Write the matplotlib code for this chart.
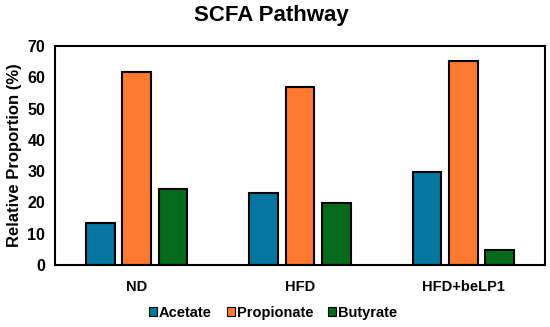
import matplotlib
matplotlib.use("Agg")
import matplotlib.pyplot as plt
import numpy as np

plt.rcParams['font.family'] = ['Liberation Sans', 'DejaVu Sans']
plt.rcParams['font.weight'] = 'bold'

groups = ["ND", "HFD", "HFD+beLP1"]
series = ["Acetate", "Propionate", "Butyrate"]
acetate = [13.5, 22.9, 29.7]
propionate = [61.8, 56.8, 65.3]
butyrate = [24.2, 19.8, 4.8]
colors = ["#0576A0", "#FF7A30", "#046B1A"]

fig = plt.figure(figsize=(5.5, 3.27), dpi=100)
ax = fig.add_axes([55/550, 1-265/327, 490/550, 219/327])

x = np.arange(len(groups))
w = 0.176
off = 0.222
for i, (vals, c, name) in enumerate(zip([acetate, propionate, butyrate], colors, series)):
    ax.bar(x + (i-1)*off, vals, w, color=c, edgecolor='black', linewidth=1.5, label=name)

ax.set_xlim(-0.5, 2.5)
ax.set_ylim(0, 70)
ax.set_yticks(range(0, 71, 10))
ax.set_xticks(x)
ax.set_xticklabels(groups, fontsize=10.5, fontweight='bold')
ax.tick_params(axis='x', length=0, pad=11)
ax.tick_params(axis='y', length=0, pad=7, labelsize=11.5)
for lab in ax.get_yticklabels():
    lab.set_fontweight('bold')
for s in ax.spines.values():
    s.set_linewidth(1.5)
ax.set_ylabel("Relative Proportion (%)", fontsize=12, fontweight='bold', labelpad=4)
fig.text(271/550, 1-16/327, "SCFA Pathway", fontsize=16, fontweight='bold', ha='center', va='center')

leg = fig.legend(loc='center', bbox_to_anchor=(273/550, 1-313/327), ncol=3, frameon=False,
                 fontsize=10.5, handlelength=0.55, handleheight=0.55, handletextpad=0.15,
                 columnspacing=1.0)
for h in leg.legend_handles:
    h.set_linewidth(0.8)

fig.savefig("out.png", dpi=100)
